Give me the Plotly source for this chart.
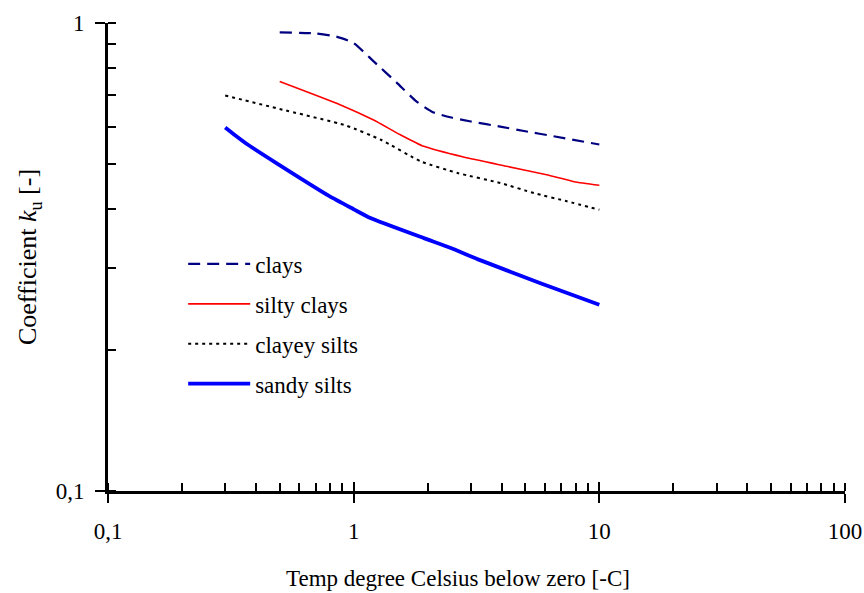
import plotly.graph_objects as go

# Coefficient k_u versus temperature below zero, by soil type
clays_t = [0.5, 0.7, 0.85, 1.0, 1.2, 1.5, 1.8, 2.1, 2.5, 3.0, 4.0, 5.0, 6.5, 10.0]
clays_k = [0.955, 0.95, 0.935, 0.906, 0.83, 0.745, 0.68, 0.645, 0.628, 0.616, 0.600, 0.587, 0.573, 0.55]

silty_clays_t = [0.5, 0.88, 1.2, 1.55, 1.93, 2.8, 4.2, 6.1, 7.9, 10.0]
silty_clays_k = [0.75, 0.669, 0.621, 0.577, 0.545, 0.517, 0.494, 0.474, 0.458, 0.45]

clayey_silts_t = [0.3, 0.5, 0.93, 1.29, 1.88, 2.65, 3.96, 5.42, 7.38, 10.0]
clayey_silts_k = [0.70, 0.655, 0.604, 0.563, 0.506, 0.478, 0.455, 0.433, 0.416, 0.399]

sandy_silts_t = [0.3, 0.33, 0.37, 0.49, 0.8, 1.0, 1.17, 1.93, 2.47, 3.29, 5.76, 10.0]
sandy_silts_k = [0.598, 0.575, 0.55, 0.50, 0.426, 0.40, 0.383, 0.347, 0.331, 0.311, 0.278, 0.25]

x_major = [0.1, 1, 10, 100]
y_major = [0.1, 1]

x_title = "Temp degree Celsius below zero [-C]"
y_title = "Coefficient <i>k</i><sub>u</sub> [-]"

FONT = "Liberation Serif"

fig = go.Figure()

series = [
    ("clays", clays_t, clays_k, dict(color="#000080", width=2.2, dash="12px,7px")),
    ("silty clays", silty_clays_t, silty_clays_k, dict(color="#FF0000", width=1.6)),
    ("clayey silts", clayey_silts_t, clayey_silts_k, dict(color="#000000", width=2, dash="3px,4px")),
    ("sandy silts", sandy_silts_t, sandy_silts_k, dict(color="#0000FF", width=3.8)),
]
for name, t, k, line in series:
    fig.add_trace(go.Scatter(
        x=t, y=k, name=name, mode="lines",
        line=dict(shape="spline", smoothing=0.5, **line),
        legendgroup=name,
    ))

# Second pair of axes: inward half of the major ticks
fig.add_trace(go.Scatter(x=[1], y=[0.5], xaxis="x2", yaxis="y2",
                         mode="markers", marker=dict(opacity=0),
                         showlegend=False, hoverinfo="skip"))

xr = [-1, 2]
yr = [-1, 0]

fig.update_layout(
    width=864, height=593,
    margin=dict(l=108, r=19, t=23, b=102, autoexpand=False),
    paper_bgcolor="white", plot_bgcolor="white",
    separators=", ",
    font=dict(family=FONT, size=23, color="#000000"),
    showlegend=True,
    legend=dict(
        x=0.102, y=0.531, xanchor="left", yanchor="top",
        font=dict(family=FONT, size=23),
        bgcolor="rgba(0,0,0,0)",
        tracegroupgap=7,
        itemwidth=62,
    ),
    xaxis=dict(
        type="log", range=xr, showgrid=False, zeroline=False, automargin=False,
        showline=True, linecolor="black", linewidth=3,
        tickmode="array", tickvals=x_major, ticktext=["0,1", "1", "10", "100"],
        ticks="outside", ticklen=9, tickwidth=2, tickcolor="black",
        ticklabelstandoff=8,
        minor=dict(ticks="inside", ticklen=8, tickwidth=2, tickcolor="black",
                   dtick="D1", showgrid=False),
    ),
    yaxis=dict(
        type="log", range=yr, showgrid=False, zeroline=False, automargin=False,
        showline=True, linecolor="black", linewidth=3,
        tickmode="array", tickvals=y_major, ticktext=["0,1", "1"],
        ticks="outside", ticklen=10, tickwidth=2, tickcolor="black",
        ticklabelstandoff=6,
        minor=dict(ticks="inside", ticklen=8, tickwidth=2, tickcolor="black",
                   dtick="D1", showgrid=False),
        title=dict(text=y_title, font=dict(family=FONT, size=26), standoff=12),
    ),
    xaxis2=dict(
        type="log", range=xr, overlaying="x", anchor="y2", side="bottom",
        showgrid=False, zeroline=False, showline=False, automargin=False,
        tickmode="array", tickvals=x_major, showticklabels=False,
        ticks="inside", ticklen=9, tickwidth=2, tickcolor="black",
    ),
    yaxis2=dict(
        type="log", range=yr, overlaying="y", anchor="x2", side="left",
        showgrid=False, zeroline=False, showline=False, automargin=False,
        tickmode="array", tickvals=y_major, showticklabels=False,
        ticks="inside", ticklen=9, tickwidth=2, tickcolor="black",
    ),
    annotations=[dict(
        text=x_title, xref="paper", yref="paper", x=0.475, y=-0.186,
        xanchor="center", yanchor="middle", showarrow=False,
        font=dict(family=FONT, size=23),
    )],
)

fig.write_html("out.html")
